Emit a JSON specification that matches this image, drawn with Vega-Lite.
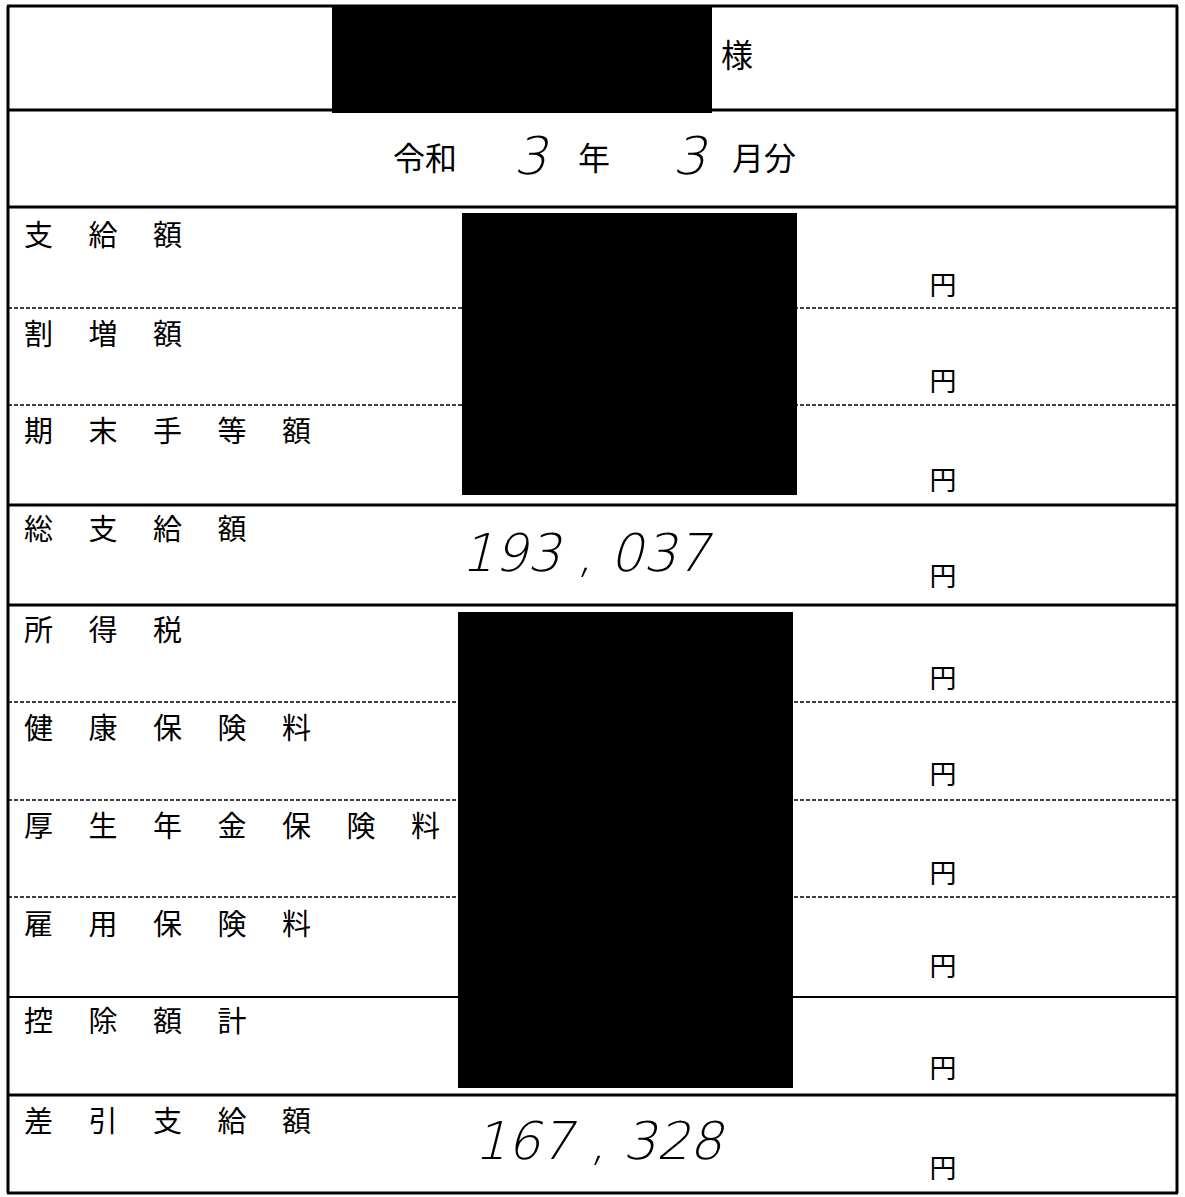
{
  "$schema": "https://vega.github.io/schema/vega-lite/v6.json",
  "width": 1185,
  "height": 1197,
  "autosize": {"type": "fit", "contains": "padding"},
  "padding": 0,
  "background": "white",
  "config": {"view": {"stroke": null}},
  "datasets": {
    "lines": [
      {"kind": "thick", "x": 7, "x2": 1178, "y": 6, "y2": 6},
      {"kind": "thick", "x": 7, "x2": 1178, "y": 110, "y2": 110},
      {"kind": "thick", "x": 7, "x2": 1178, "y": 207, "y2": 207},
      {"kind": "thick", "x": 7, "x2": 1178, "y": 505, "y2": 505},
      {"kind": "thick", "x": 7, "x2": 1178, "y": 605, "y2": 605},
      {"kind": "thick", "x": 7, "x2": 1178, "y": 1095, "y2": 1095},
      {"kind": "thick", "x": 7, "x2": 1178, "y": 1193, "y2": 1193},
      {"kind": "thick", "x": 8, "x2": 8, "y": 6, "y2": 1193},
      {"kind": "thick", "x": 1177, "x2": 1177, "y": 6, "y2": 1193},
      {"kind": "thin", "x": 7, "x2": 1178, "y": 997, "y2": 997},
      {"kind": "dashed", "x": 8, "x2": 1177, "y": 308, "y2": 308},
      {"kind": "dashed", "x": 8, "x2": 1177, "y": 405, "y2": 405},
      {"kind": "dashed", "x": 8, "x2": 1177, "y": 702, "y2": 702},
      {"kind": "dashed", "x": 8, "x2": 1177, "y": 800, "y2": 800},
      {"kind": "dashed", "x": 8, "x2": 1177, "y": 897, "y2": 897}
    ],
    "redactions": [
      {"x": 332, "x2": 712, "y": 5, "y2": 113},
      {"x": 462, "x2": 797, "y": 213, "y2": 495},
      {"x": 458, "x2": 793, "y": 612, "y2": 1088}
    ],
    "labels": [
      {"label": "支　 給　 額", "y": 237},
      {"label": "割　 増　 額", "y": 336},
      {"label": "期　 末　 手　 等　 額", "y": 433},
      {"label": "総　 支　 給　 額", "y": 531},
      {"label": "所　 得　 税", "y": 632},
      {"label": "健　 康　 保　 険　 料", "y": 730},
      {"label": "厚　 生　 年　 金　 保　 険　 料", "y": 828},
      {"label": "雇　 用　 保　 険　 料", "y": 926},
      {"label": "控　 除　 額　 計", "y": 1023},
      {"label": "差　 引　 支　 給　 額", "y": 1123}
    ],
    "yen": [
      {"y": 287}, {"y": 383}, {"y": 482}, {"y": 578}, {"y": 680},
      {"y": 776}, {"y": 875}, {"y": 968}, {"y": 1070}, {"y": 1170}
    ],
    "printed": [
      {"text": "様", "x": 737, "y": 57},
      {"text": "令和", "x": 425, "y": 160},
      {"text": "年", "x": 594, "y": 160},
      {"text": "月分", "x": 764, "y": 160}
    ],
    "handwritten": [
      {"text": "3", "x": 530, "y": 158},
      {"text": "3", "x": 689, "y": 158},
      {"text": "193 , 037", "x": 585, "y": 555},
      {"text": "167 , 328", "x": 598, "y": 1143}
    ]
  },
  "layer": [
    {
      "data": {"name": "lines"},
      "transform": [{"filter": "datum.kind === 'thick'"}],
      "mark": {"type": "rule", "color": "black", "strokeWidth": 3},
      "encoding": {
        "x": {"field": "x", "type": "quantitative", "scale": {"domain": [0, 1185], "nice": false, "zero": false}, "axis": null},
        "x2": {"field": "x2"},
        "y": {"field": "y", "type": "quantitative", "scale": {"domain": [0, 1197], "nice": false, "zero": false, "reverse": true}, "axis": null},
        "y2": {"field": "y2"}
      }
    },
    {
      "data": {"name": "lines"},
      "transform": [{"filter": "datum.kind === 'thin'"}],
      "mark": {"type": "rule", "color": "black", "strokeWidth": 2},
      "encoding": {
        "x": {"field": "x", "type": "quantitative", "axis": null},
        "x2": {"field": "x2"},
        "y": {"field": "y", "type": "quantitative", "axis": null},
        "y2": {"field": "y2"}
      }
    },
    {
      "data": {"name": "lines"},
      "transform": [{"filter": "datum.kind === 'dashed'"}],
      "mark": {"type": "rule", "color": "black", "strokeWidth": 1.6, "strokeDash": [4, 2]},
      "encoding": {
        "x": {"field": "x", "type": "quantitative", "axis": null},
        "x2": {"field": "x2"},
        "y": {"field": "y", "type": "quantitative", "axis": null},
        "y2": {"field": "y2"}
      }
    },
    {
      "data": {"name": "redactions"},
      "mark": {"type": "rect", "color": "black"},
      "encoding": {
        "x": {"field": "x", "type": "quantitative", "axis": null},
        "x2": {"field": "x2"},
        "y": {"field": "y", "type": "quantitative", "axis": null},
        "y2": {"field": "y2"}
      }
    },
    {
      "data": {"name": "labels"},
      "mark": {"type": "text", "align": "left", "baseline": "middle", "font": "Noto Sans CJK JP", "fontSize": 29, "color": "black"},
      "encoding": {
        "x": {"datum": 24, "type": "quantitative", "axis": null},
        "y": {"field": "y", "type": "quantitative", "axis": null},
        "text": {"field": "label"}
      }
    },
    {
      "data": {"name": "yen"},
      "mark": {"type": "text", "align": "center", "baseline": "middle", "font": "Noto Sans CJK JP", "fontSize": 27, "color": "black", "text": "円"},
      "encoding": {
        "x": {"datum": 943, "type": "quantitative", "axis": null},
        "y": {"field": "y", "type": "quantitative", "axis": null}
      }
    },
    {
      "data": {"name": "printed"},
      "mark": {"type": "text", "align": "center", "baseline": "middle", "font": "Noto Sans CJK JP", "fontSize": 32, "color": "black"},
      "encoding": {
        "x": {"field": "x", "type": "quantitative", "axis": null},
        "y": {"field": "y", "type": "quantitative", "axis": null},
        "text": {"field": "text"}
      }
    },
    {
      "data": {"name": "handwritten"},
      "mark": {"type": "text", "align": "center", "baseline": "middle", "font": "'DejaVu Sans Light', 'Roboto Thin', Roboto, 'DejaVu Sans'", "fontWeight": 100, "fontStyle": "italic", "fontSize": 52, "color": "black"},
      "encoding": {
        "x": {"field": "x", "type": "quantitative", "axis": null},
        "y": {"field": "y", "type": "quantitative", "axis": null},
        "text": {"field": "text"}
      }
    }
  ]
}
